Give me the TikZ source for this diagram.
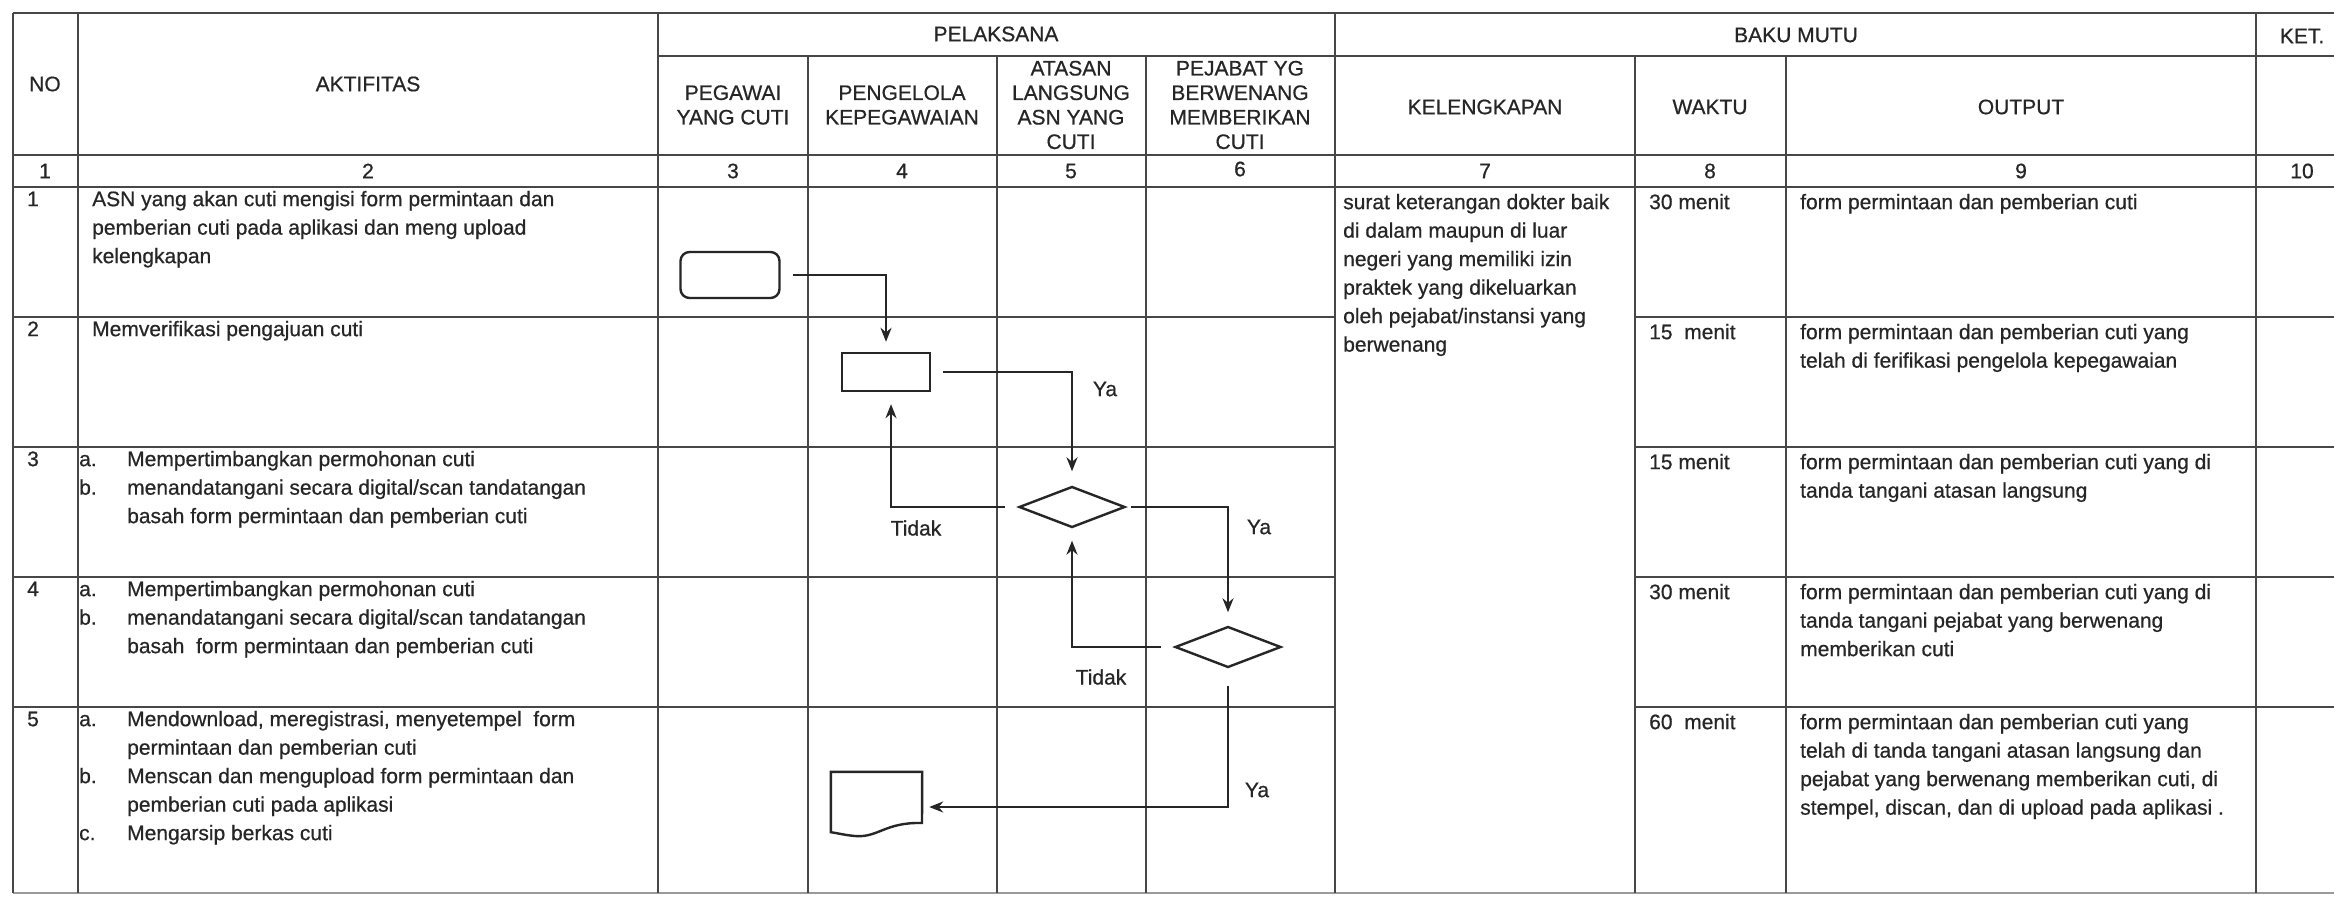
\documentclass[tikz,border=0pt]{standalone}
\usepackage{fontspec}
\setmainfont{Liberation Sans}[FakeBold=0.6]
\usetikzlibrary{shapes.geometric,arrows.meta}
\definecolor{gridc}{HTML}{474747}
\definecolor{inkc}{HTML}{262626}
\definecolor{txtc}{HTML}{262626}
\newcommand\rowfnt{\fontsize{21bp}{28.5bp}\selectfont}
\newcommand\hdrfnt{\fontsize{21bp}{24.5bp}\selectfont}
\begin{document}
\begin{tikzpicture}[x=1bp,y=-1bp,
  gridline/.style={line width=2bp, draw=gridc},
  hdr/.style={font=\hdrfnt, align=center, inner sep=0pt, text=txtc},
  cell/.style={anchor=north west, align=left, inner sep=0pt, font=\rowfnt, text=txtc},
  flowline/.style={line width=2.4bp, draw=inkc},
  arr/.style={flowline, -{Stealth[length=14bp,width=11bp]}},
  lbl/.style={font=\rowfnt, inner sep=0pt, text=txtc},
  termbox/.style={flowline, rounded corners=9bp, minimum width=99bp, minimum height=46bp, inner sep=0pt},
  procbox/.style={flowline, minimum width=88bp, minimum height=38bp, inner sep=0pt},
  decision/.style={flowline, diamond, minimum width=106bp, minimum height=41bp, inner sep=0pt},
  docbox/.style={inner sep=0pt, minimum width=91bp, minimum height=60bp}
]
\useasboundingbox[fill=white] (0,0) rectangle (2334,901);

% ---------- table grid ----------
\draw[gridline] (13,13) -- (2334,13);
\draw[gridline] (658,56) -- (2334,56);
\draw[gridline] (13,155) -- (2334,155);
\draw[gridline] (13,187) -- (2334,187);
\foreach \y in {317,447,577,707} {
  \draw[gridline] (13,\y) -- (1335,\y);
  \draw[gridline] (1635,\y) -- (2334,\y);
}
\draw[gridline, draw=gridc!55] (13,893) -- (2334,893);
\foreach \x in {13,78,658,1335,2256} \draw[gridline] (\x,13) -- (\x,893);
\foreach \x in {808,997,1146,1635,1786} \draw[gridline] (\x,56) -- (\x,893);

% ---------- header ----------
\node[hdr] (hNo) at (45,84) {NO};
\node[hdr] (hAkt) at (368,84) {AKTIFITAS};
\node[hdr] (hPel) at (996,34) {PELAKSANA};
\node[hdr] (hPeg) at (733,105) {PEGAWAI\\YANG CUTI};
\node[hdr] (hPen) at (902,105) {PENGELOLA\\KEPEGAWAIAN};
\node[hdr] (hAta) at (1071,105) {ATASAN\\LANGSUNG\\ASN YANG\\CUTI};
\node[hdr] (hPej) at (1240,105) {PEJABAT YG\\BERWENANG\\MEMBERIKAN\\CUTI};
\node[hdr] (hBaku) at (1796,35) {BAKU MUTU};
\node[hdr] (hKel) at (1485,107) {KELENGKAPAN};
\node[hdr] (hWak) at (1710,107) {WAKTU};
\node[hdr] (hOut) at (2021,107) {OUTPUT};
\node[hdr] (hKet) at (2302,36) {KET.};
% column numbers
\node[hdr] (c1) at (45,171) {1};
\node[hdr] (c2) at (368,171) {2};
\node[hdr] (c3) at (733,171) {3};
\node[hdr] (c4) at (902,171) {4};
\node[hdr] (c5) at (1071,171) {5};
\node[hdr] (c6) at (1240,169) {6};
\node[hdr] (c7) at (1485,171) {7};
\node[hdr] (c8) at (1710,171) {8};
\node[hdr] (c9) at (2021,171) {9};
\node[hdr] (c10) at (2302,171) {10};

% ---------- row numbers ----------
\node[cell] (r1n) at (27,186) {\strut 1};
\node[cell] (r2n) at (27,316) {\strut 2};
\node[cell] (r3n) at (27,446) {\strut 3};
\node[cell] (r4n) at (27,576) {\strut 4};
\node[cell] (r5n) at (27,706) {\strut 5};

% ---------- activities ----------
\node[cell] (r1a) at (92,186) {\strut ASN yang akan cuti mengisi form permintaan dan\\pemberian cuti pada aplikasi dan meng upload\\kelengkapan};
\node[cell] (r2a) at (92,316) {\strut Memverifikasi pengajuan cuti};
\node[cell] (r3l) at (79,446) {\strut a.\\\strut b.};
\node[cell] (r3a) at (127,446) {\strut Mempertimbangkan permohonan cuti\\menandatangani secara digital/scan tandatangan\\basah form permintaan dan pemberian cuti};
\node[cell] (r4l) at (79,576) {\strut a.\\\strut b.};
\node[cell] (r4a) at (127,576) {\strut Mempertimbangkan permohonan cuti\\menandatangani secara digital/scan tandatangan\\basah\ \ form permintaan dan pemberian cuti};
\node[cell] (r5l) at (79,706) {\strut a.\\\strut\\\strut b.\\\strut\\\strut c.};
\node[cell] (r5a) at (127,706) {\strut Mendownload, meregistrasi, menyetempel\ \ form\\permintaan dan pemberian cuti\\Menscan dan mengupload form permintaan dan\\pemberian cuti pada aplikasi\\Mengarsip berkas cuti};

% ---------- kelengkapan ----------
\node[cell] (kel) at (1343,189) {\strut surat keterangan dokter baik\\di dalam maupun di luar\\negeri yang memiliki izin\\praktek yang dikeluarkan\\oleh pejabat/instansi yang\\berwenang};

% ---------- waktu ----------
\node[cell] (w1) at (1649,189) {\strut 30 menit};
\node[cell] (w2) at (1649,319) {\strut 15\ \ menit};
\node[cell] (w3) at (1649,449) {\strut 15 menit};
\node[cell] (w4) at (1649,579) {\strut 30 menit};
\node[cell] (w5) at (1649,709) {\strut 60\ \ menit};

% ---------- output ----------
\node[cell] (o1) at (1800,189) {\strut form permintaan dan pemberian cuti};
\node[cell] (o2) at (1800,319) {\strut form permintaan dan pemberian cuti yang\\telah di ferifikasi pengelola kepegawaian};
\node[cell] (o3) at (1800,449) {\strut form permintaan dan pemberian cuti yang di\\tanda tangani atasan langsung};
\node[cell] (o4) at (1800,579) {\strut form permintaan dan pemberian cuti yang di\\tanda tangani pejabat yang berwenang\\memberikan cuti};
\node[cell] (o5) at (1800,709) {\strut form permintaan dan pemberian cuti yang\\telah di tanda tangani atasan langsung dan\\pejabat yang berwenang memberikan cuti, di\\stempel, discan, dan di upload pada aplikasi .};

% ---------- flow shapes ----------
\node[termbox] (start) at (730,275) {};
\node[procbox] (verif) at (886,372) {};
\node[decision] (dec1) at (1072,507) {};
\node[decision] (dec2) at (1228,647) {};
\node[docbox] (doc) at (876.5,802) {};
\draw[flowline] (doc.north west) -- (doc.north east) -- (922,823)
  .. controls (885,822) and (878,838) .. (855,836)
  .. controls (844,835) and (837,833) .. (doc.south west) -- cycle;

% ---------- connectors ----------
\draw[arr, shorten <=12bp, shorten >=10bp] (start.east) -| (verif.north);
\draw[arr, shorten <=12bp, shorten >=14bp] (verif.east) -| (dec1.north);
\draw[arr, shorten <=13bp, shorten >=12bp] (dec1.west) -| ([xshift=5bp]verif.south);
\draw[arr, shorten <=5bp, shorten >=13bp] (dec1.east) -| (dec2.north);
\draw[arr, shorten <=13bp, shorten >=12bp] (dec2.west) -| (dec1.south);
\draw[arr, shorten <=17bp, shorten >=7bp] (dec2.south) |- ([yshift=-5bp]doc.east);

% ---------- connector labels ----------
\node[lbl] (ya1) at (1105,389) {Ya};
\node[lbl] (td1) at (916,528) {Tidak};
\node[lbl] (ya2) at (1259,527) {Ya};
\node[lbl] (td2) at (1101,677) {Tidak};
\node[lbl] (ya3) at (1257,790) {Ya};
\end{tikzpicture}
\end{document}
